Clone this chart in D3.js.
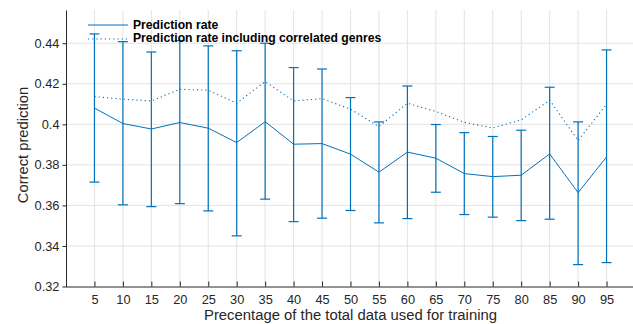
<!DOCTYPE html>
<html>
<head>
<meta charset="utf-8">
<script src="https://cdn.jsdelivr.net/npm/d3@7"></script>
<style>
  body { margin: 0; background: #fff; }
  text { font-family: "Liberation Sans", Arial, Helvetica, sans-serif; }
</style>
</head>
<body>
<div id="chart"></div>
<script>
// values
var pct = [5, 10, 15, 20, 25, 30, 35, 40, 45, 50, 55, 60, 65, 70, 75, 80, 85, 90, 95]
var rate = [0.408, 0.4004, 0.3977, 0.4009, 0.3981, 0.391, 0.4013, 0.3902, 0.3905, 0.3853,
            0.3764, 0.3863, 0.3833, 0.3757, 0.3742, 0.3749, 0.3854, 0.3663, 0.3839]
var rateUpper = [0.4446, 0.4408, 0.4357, 0.4413, 0.4387, 0.4363, 0.44, 0.428, 0.4273, 0.4132,
                 0.4012, 0.4189, 0.3999, 0.3959, 0.394, 0.3971, 0.4183, 0.4012, 0.4367]
var rateLower = [0.3715, 0.3603, 0.3594, 0.3609, 0.3573, 0.345, 0.3631, 0.352, 0.3537, 0.3575,
                 0.3514, 0.3535, 0.3665, 0.3555, 0.3542, 0.3525, 0.3532, 0.3308, 0.3318]
var rateCorr = [0.4137, 0.4124, 0.4115, 0.4173, 0.4168, 0.4104, 0.4211, 0.4115, 0.4127, 0.4075,
                0.3989, 0.4104, 0.4063, 0.401, 0.3982, 0.4022, 0.4119, 0.392, 0.4099]
var yTicks = [0.32, 0.34, 0.36, 0.38, 0.4, 0.42, 0.44]
var yTickLabels = ["0.32", "0.34", "0.36", "0.38", "0.4", "0.42", "0.44"]
var legendNames = ["Prediction rate", "Prediction rate including correlated genres"]

var W = 633, H = 324
var blue = "#0072BD"
var axisColor = "#262626"

var svg = d3.select("#chart").append("svg")
    .attr("width", W)
    .attr("height", H)

var x = d3.scaleLinear().domain([0, 100]).range([66, 635])
var y = d3.scaleLinear().domain([0.32, 0.4564]).range([286.5, 10])

// shrink/grow a text so it spans about the same width as in the picture
function fitWidth(sel, target) {
    var fs = parseFloat(sel.style("font-size"))
    var len = sel.node().getComputedTextLength()
    sel.style("font-size", (fs * target / len).toFixed(2) + "px")
}

// grid
svg.append("g").selectAll("line")
    .data(pct).enter().append("line")
    .attr("x1", d => x(d)).attr("x2", d => x(d))
    .attr("y1", y.range()[1]).attr("y2", y.range()[0])
    .attr("stroke", "#e3e3e3").attr("stroke-width", 1)
svg.append("g").selectAll("line")
    .data(yTicks.slice(1)).enter().append("line")
    .attr("x1", x.range()[0]).attr("x2", W)
    .attr("y1", d => y(d)).attr("y2", d => y(d))
    .attr("stroke", "#e3e3e3").attr("stroke-width", 1)

// axes
var xAxis = svg.append("g")
    .attr("transform", "translate(0," + y.range()[0] + ")")
    .call(d3.axisBottom(x).tickValues(pct).tickSize(-5).tickPadding(8.5).tickSizeOuter(0))
xAxis.select(".domain").attr("stroke", axisColor).attr("d", "M" + x.range()[0] + ",0.5H" + W)
xAxis.selectAll(".tick line").attr("stroke", axisColor)
xAxis.selectAll("text").attr("fill", axisColor).style("font-size", "12.8px")

var yAxis = svg.append("g")
    .attr("transform", "translate(" + x.range()[0] + ",0)")
    .call(d3.axisLeft(y).tickValues(yTicks).tickFormat((d, i) => yTickLabels[i])
        .tickSize(3.5).tickPadding(3).tickSizeOuter(0))
yAxis.select(".domain").attr("stroke", axisColor)
yAxis.selectAll(".tick line").attr("stroke", axisColor)
yAxis.selectAll("text").attr("fill", axisColor).style("font-size", "12.8px")

// axis titles
var xTitle = svg.append("text")
    .attr("x", (x.range()[0] + x.range()[1]) / 2)
    .attr("y", 319.5)
    .attr("text-anchor", "middle")
    .attr("fill", axisColor)
    .style("font-size", "14px")
    .text("Precentage of the total data used for training")
fitWidth(xTitle, 293)
var yTitle = svg.append("text")
    .attr("transform", "translate(28.3,145) rotate(-90)")
    .attr("text-anchor", "middle")
    .attr("fill", axisColor)
    .style("font-size", "13px")
    .text("Correct prediction")
fitWidth(yTitle, 116.5)

// error bars
var bars = svg.append("g").attr("stroke", blue).attr("stroke-width", 1.2).attr("fill", "none")
bars.selectAll("line.v")
    .data(pct).enter().append("line")
    .attr("x1", d => x(d)).attr("x2", d => x(d))
    .attr("y1", (d, i) => y(rateLower[i])).attr("y2", (d, i) => y(rateUpper[i]))
bars.selectAll("line.top")
    .data(pct).enter().append("line")
    .attr("x1", d => x(d) - 5).attr("x2", d => x(d) + 5)
    .attr("y1", (d, i) => y(rateUpper[i])).attr("y2", (d, i) => y(rateUpper[i]))
bars.selectAll("line.bot")
    .data(pct).enter().append("line")
    .attr("x1", d => x(d) - 5).attr("x2", d => x(d) + 5)
    .attr("y1", (d, i) => y(rateLower[i])).attr("y2", (d, i) => y(rateLower[i]))

// lines
var line = d3.line().x(d => x(d[0])).y(d => y(d[1]))
svg.append("path")
    .attr("d", line(pct.map((p, i) => [p, rate[i]])))
    .attr("stroke", blue).attr("stroke-width", 1).attr("fill", "none")
svg.append("path")
    .attr("d", line(pct.map((p, i) => [p, rateCorr[i]])))
    .attr("stroke", blue).attr("stroke-width", 1.1).attr("fill", "none")
    .attr("stroke-dasharray", "1.2,3")

// legend
var legend = svg.append("g")
legend.append("line")
    .attr("x1", 88).attr("x2", 128).attr("y1", 25).attr("y2", 25)
    .attr("stroke", blue).attr("stroke-width", 1)
legend.append("line")
    .attr("x1", 88).attr("x2", 128).attr("y1", 39).attr("y2", 39)
    .attr("stroke", blue).attr("stroke-width", 1.1).attr("stroke-dasharray", "1.2,3")
var legendText = legend.selectAll("text")
    .data(legendNames).enter().append("text")
    .attr("x", 133)
    .attr("y", (d, i) => 28.5 + i * 13.3)
    .attr("fill", "#000")
    .style("font-size", "12px")
    .style("font-weight", "bold")
    .text(d => d)
var longest = d3.select(legendText.nodes()[1])
fitWidth(longest, 248.5)
legendText.style("font-size", longest.style("font-size"))
</script>
</body>
</html>
